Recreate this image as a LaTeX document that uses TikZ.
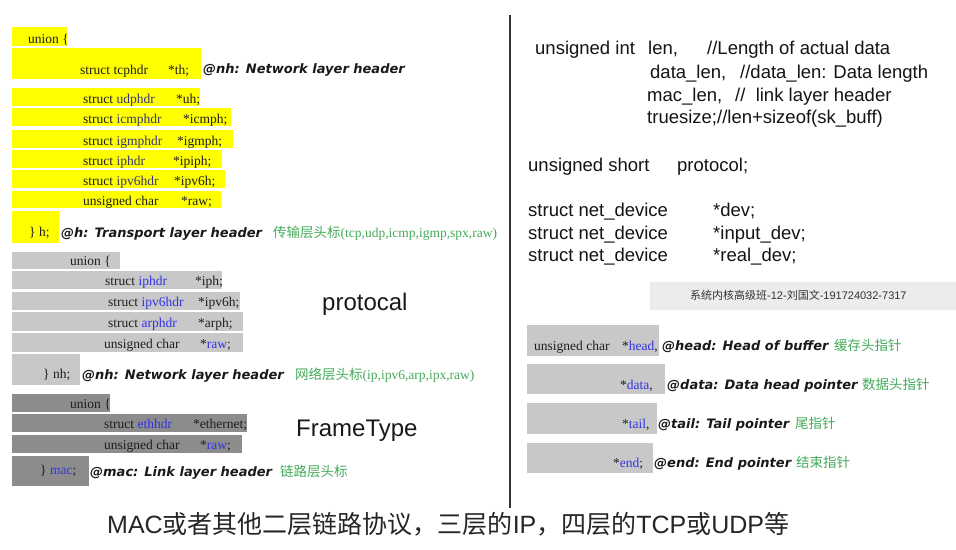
\documentclass[tikz,border=0pt]{standalone}
\usepackage{fontspec}
\setmainfont{Liberation Serif}
\newfontfamily\arialf{Liberation Sans}
\newfontfamily\verdf{DejaVu Sans}
\newfontfamily\cjkf{Noto Sans CJK SC}
\usetikzlibrary{fit}
\definecolor{hlyellow}{RGB}{255,255,0}
\definecolor{boxgray}{RGB}{200,200,200}
\definecolor{darkgray2}{RGB}{140,140,140}
\definecolor{bannergray}{RGB}{236,236,236}
\definecolor{linkblue}{RGB}{50,50,230}
\definecolor{navytxt}{RGB}{55,55,120}
\definecolor{cngreen}{RGB}{70,170,90}
\definecolor{codec}{RGB}{30,30,30}
\newcommand\bluetxt[1]{\textcolor{linkblue}{#1}}
\newcommand\navy[1]{\textcolor{navytxt}{#1}}
\tikzset{
  x=1pt, y=-1pt,
  yb/.style={fill=hlyellow, draw=none, inner sep=0pt, outer sep=0pt},
  gb/.style={fill=boxgray, draw=none, inner sep=0pt, outer sep=0pt},
  db/.style={fill=darkgray2, draw=none, inner sep=0pt, outer sep=0pt},
  bb/.style={fill=bannergray, draw=none, inner sep=0pt, outer sep=0pt},
  code/.style={font=\fontsize{13.5}{15}\selectfont, text=codec, anchor=base west, inner sep=0pt},
  lab/.style={font=\verdf\bfseries\itshape\fontsize{13}{15}\selectfont, text=black!90, anchor=base west, inner sep=0pt},
  grn/.style={font=\fontsize{13.5}{15}\selectfont, text=cngreen, anchor=base west, inner sep=0pt},
  rt/.style={font=\arialf\fontsize{18.5}{22}\selectfont, text=black!92, anchor=base west, inner sep=0pt},
  big/.style={font=\arialf\fontsize{24}{28}\selectfont, text=black!90, anchor=base west, inner sep=0pt},
}
\begin{document}
\begin{tikzpicture}
\useasboundingbox[fill=white] (0,0) rectangle (956,549);

% ---- yellow section (transport layer) ----
\node[yb, fit={(12,27) (67,46)}] (y0) {};
\node[yb, fit={(12,48) (201,79)}] (y1) {};
\node[yb, fit={(12,88) (200,106)}] (y2) {};
\node[yb, fit={(12,108) (231,126)}] (y3) {};
\node[yb, fit={(12,130) (233,148)}] (y4) {};
\node[yb, fit={(12,150) (222,168)}] (y5) {};
\node[yb, fit={(12,170) (225,188)}] (y6) {};
\node[yb, fit={(12,191) (221,208)}] (y7) {};
\node[yb, fit={(12,211) (59,243)}] (y8) {};

\node[code] (ty0) at (28,43) {union \{};
\node[code] (ty1a) at (80,74) {struct tcphdr};
\node[code] (ty1b) at (168,74) {*th;};
\node[code] (ty2a) at (83,103) {struct \navy{udphdr}};
\node[code] (ty2b) at (176,103) {*uh;};
\node[code] (ty3a) at (83,123) {struct \navy{icmphdr}};
\node[code] (ty3b) at (183,123) {*icmph;};
\node[code] (ty4a) at (83,145) {struct \navy{igmphdr}};
\node[code] (ty4b) at (177,145) {*igmph;};
\node[code] (ty5a) at (83,165) {struct \navy{iphdr}};
\node[code] (ty5b) at (173,165) {*ipiph;};
\node[code] (ty6a) at (83,185) {struct \navy{ipv6hdr}};
\node[code] (ty6b) at (174,185) {*ipv6h;};
\node[code] (ty7a) at (83,205) {unsigned char};
\node[code] (ty7b) at (181,205) {*raw;};
\node[code] (ty8) at (29,236) {\} h;};

\node[lab] (l1) at (203,73) {@nh: Network layer header};
\node[lab] (l2) at (61,237) {@h: Transport layer header};
\node[grn] (g2) at (273,237) {{\cjkf 传输层头标}(tcp,udp,icmp,igmp,spx,raw)};

% ---- light gray section (network layer) ----
\node[gb, fit={(12,252) (120,269)}] (n0) {};
\node[gb, fit={(12,271) (222,289)}] (n1) {};
\node[gb, fit={(12,292) (240,310)}] (n2) {};
\node[gb, fit={(12,312) (243,331)}] (n3) {};
\node[gb, fit={(12,333) (243,352)}] (n4) {};
\node[gb, fit={(12,354) (80,385)}] (n5) {};

\node[code] (tn0) at (70,265) {union \{};
\node[code] (tn1a) at (105,285) {struct \bluetxt{iphdr}};
\node[code] (tn1b) at (195,285) {*iph;};
\node[code] (tn2a) at (108,306) {struct \bluetxt{ipv6hdr}};
\node[code] (tn2b) at (198,306) {*ipv6h;};
\node[code] (tn3a) at (108,327) {struct \bluetxt{arphdr}};
\node[code] (tn3b) at (198,327) {*arph;};
\node[code] (tn4a) at (104,348) {unsigned char};
\node[code] (tn4b) at (200,348) {*\bluetxt{raw};};
\node[code] (tn5) at (43,378) {\} nh;};

\node[lab] (l3) at (82,379) {@nh: Network layer header};
\node[grn] (g3) at (295,379) {{\cjkf 网络层头标}(ip,ipv6,arp,ipx,raw)};
\node[big] (proto) at (322,310) {protocal};

% ---- dark gray section (link layer) ----
\node[db, fit={(12,394) (110,412)}] (m0) {};
\node[db, fit={(12,414) (247,432)}] (m1) {};
\node[db, fit={(12,435) (242,453)}] (m2) {};
\node[db, fit={(12,456) (89,486)}] (m3) {};

\node[code] (tm0) at (70,408) {union \{};
\node[code] (tm1a) at (104,428) {struct \bluetxt{ethhdr}};
\node[code] (tm1b) at (193,428) {*ethernet;};
\node[code] (tm2a) at (104,449) {unsigned char};
\node[code] (tm2b) at (200,449) {*\bluetxt{raw};};
\node[code] (tm3) at (40,474) {\} \bluetxt{mac};};

\node[lab] (l4) at (90,476) {@mac: Link layer header};
\node[grn] (g4) at (280,476) {\cjkf 链路层头标};
\node[big] (ftype) at (296,436) {FrameType};

% ---- bottom sentence ----
\node[anchor=base west, inner sep=0pt, text=black!85, font=\fontsize{25}{28}\selectfont] (bottom) at (107,533)
  {{\arialf MAC}{\cjkf 或者其他二层链路协议，三层的}{\arialf IP}{\cjkf ，四层的}{\arialf TCP}{\cjkf 或}{\arialf UDP}{\cjkf 等}};

% ---- divider ----
\coordinate (dtop) at (510,15);
\coordinate (dbot) at (510,508);
\draw[line width=1.3pt, black!80] (dtop) -- (dbot);

% ---- right side text ----
\node[rt] (r1a) at (535,54) {unsigned int};
\node[rt] (r1b) at (648,54) {len,};
\node[rt] (r1c) at (707,54) {//Length of actual data};
\node[rt] (r2a) at (650,78) {data\_len,};
\node[rt] (r2b) at (740,78) {//data\_len: Data length};
\node[rt] (r3a) at (647,101) {mac\_len,};
\node[rt] (r3b) at (735,101) {//\ \ link layer header};
\node[rt] (r4) at (647,123) {truesize;//len+sizeof(sk\_buff)};
\node[rt] (r5a) at (528,171) {unsigned short};
\node[rt] (r5b) at (677,171) {protocol;};
\node[rt] (r6a) at (528,216) {struct net\_device};
\node[rt] (r6b) at (713,216) {*dev;};
\node[rt] (r7a) at (528,239) {struct net\_device};
\node[rt] (r7b) at (713,239) {*input\_dev;};
\node[rt] (r8a) at (528,261) {struct net\_device};
\node[rt] (r8b) at (713,261) {*real\_dev;};

% ---- banner ----
\node[bb, fit={(650,282) (956,310)}] (banner) {};
\node[anchor=base west, inner sep=0pt, text=black!80, font=\fontsize{11}{13}\selectfont] (bannertxt) at (690,299)
  {{\cjkf 系统内核高级班}{\arialf -12-}{\cjkf 刘国文}{\arialf -191724032-7317}};

% ---- sk_buff pointers ----
\node[gb, fit={(527,325) (659,356)}] (p1) {};
\node[gb, fit={(527,364) (665,394)}] (p2) {};
\node[gb, fit={(527,403) (657,434)}] (p3) {};
\node[gb, fit={(527,443) (653,473)}] (p4) {};

\node[code] (tp1a) at (534,350) {unsigned char};
\node[code] (tp1b) at (622,350) {*\bluetxt{head},};
\node[code] (tp2) at (620,389) {*\bluetxt{data},};
\node[code] (tp3) at (622,428) {*\bluetxt{tail},};
\node[code] (tp4) at (613,467) {*\bluetxt{end};};

\node[lab] (lp1) at (662,350) {@head: Head of buffer};
\node[grn] (gp1) at (834,350) {\cjkf 缓存头指针};
\node[lab] (lp2) at (667,389) {@data: Data head pointer};
\node[grn] (gp2) at (862,389) {\cjkf 数据头指针};
\node[lab] (lp3) at (658,428) {@tail: Tail pointer};
\node[grn] (gp3) at (795,428) {\cjkf 尾指针};
\node[lab] (lp4) at (654,467) {@end: End pointer};
\node[grn] (gp4) at (796,467) {\cjkf 结束指针};
\end{tikzpicture}
\end{document}
